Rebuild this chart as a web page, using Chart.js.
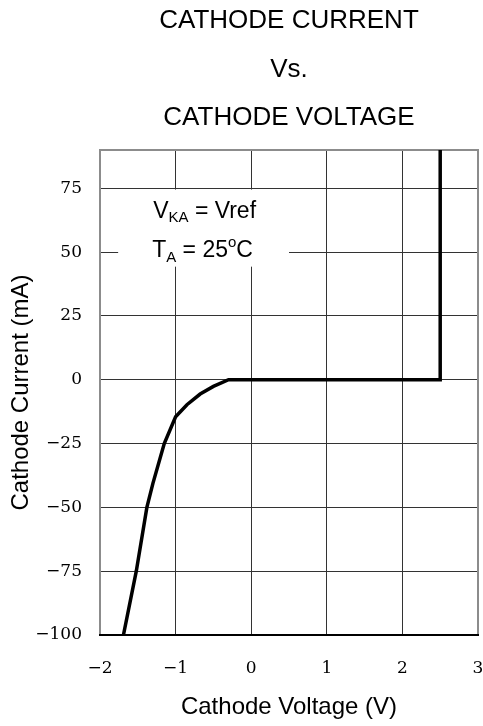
<!DOCTYPE html>
<html>
<head>
<meta charset="utf-8">
<script src="https://cdn.jsdelivr.net/npm/chart.js@4/dist/chart.umd.min.js"></script>
<style>
  html, body { margin: 0; padding: 0; background: #fff; }
  #wrap { width: 483px; height: 726px; position: relative; }
</style>
</head>
<body>
<div id="wrap"><canvas id="myChart"></canvas></div>
<script>
// values
const voltage = [-1.69, -1.52, -1.38, -1.30, -1.15, -1.0, -0.85, -0.675, -0.5, -0.3, 2.5, 2.5];
const current = [-100, -75, -50, -40.6, -25, -14.5, -9.8, -5.6, -2.6, 0, 0, 90];

const xTicks = [-2, -1, 0, 1, 2, 3];
const yTicks = [-100, -75, -50, -25, 0, 25, 50, 75];

const titleLines = ['CATHODE CURRENT', 'Vs.', 'CATHODE VOLTAGE'];

const minus = v => String(v).replace('-', '\u2212');

// titles, frame and the condition note
const decor = {
  id: 'decor',
  beforeDraw(chart) {
    const ctx = chart.ctx;
    const a = chart.chartArea;
    const cx = (a.left + a.right) / 2;
    ctx.save();
    ctx.fillStyle = '#000';
    ctx.font = '26px "Liberation Sans", Arial, sans-serif';
    ctx.textAlign = 'center';
    ctx.textBaseline = 'alphabetic';
    const base = [28, 77, 125];
    titleLines.forEach((t, i) => ctx.fillText(t, cx, base[i]));
    ctx.restore();
  },
  beforeDatasetsDraw(chart) {
    const ctx = chart.ctx;
    const a = chart.chartArea;
    const x = chart.scales.x, y = chart.scales.y;

    // frame
    ctx.save();
    ctx.lineWidth = 2;
    ctx.strokeStyle = '#8c8c8c';
    ctx.beginPath();
    ctx.moveTo(a.left, a.bottom);
    ctx.lineTo(a.left, a.top);
    ctx.lineTo(a.right, a.top);
    ctx.lineTo(a.right, a.bottom);
    ctx.stroke();
    ctx.strokeStyle = '#000';
    ctx.beginPath();
    ctx.moveTo(a.left - 1, a.bottom);
    ctx.lineTo(a.right + 1, a.bottom);
    ctx.stroke();

    // white note box
    const bx0 = x.getPixelForValue(-1.76), bx1 = x.getPixelForValue(0.5);
    const by0 = y.getPixelForValue(74.5), by1 = y.getPixelForValue(44.3);
    ctx.fillStyle = '#fff';
    ctx.fillRect(bx0, by0, bx1 - bx0, by1 - by0);

    ctx.fillStyle = '#000';
    ctx.textAlign = 'left';
    ctx.textBaseline = 'alphabetic';
    const big = '23px "Liberation Sans", Arial, sans-serif';
    const small = '15px "Liberation Sans", Arial, sans-serif';
    let px = bx0 + 35, py = by0 + 28;
    ctx.font = big; ctx.fillText('V', px, py); px += ctx.measureText('V').width;
    ctx.font = small; ctx.fillText('KA', px, py + 4); px += ctx.measureText('KA').width;
    ctx.font = big; ctx.fillText(' = Vref', px, py);

    px = bx0 + 34; py = by0 + 67;
    ctx.font = big; ctx.fillText('T', px, py); px += ctx.measureText('T').width;
    ctx.font = small; ctx.fillText('A', px, py + 5); px += ctx.measureText('A').width;
    ctx.font = big; ctx.fillText(' = 25', px, py); px += ctx.measureText(' = 25').width;
    ctx.font = small; ctx.fillText('o', px, py - 10); px += ctx.measureText('o').width;
    ctx.font = big; ctx.fillText('C', px, py);
    ctx.restore();
  }
};

const tickFont = { family: '"DejaVu Serif", serif', size: 17 };
const labelFont = { family: '"Liberation Sans", Arial, sans-serif', size: 24 };

new Chart(document.getElementById('myChart'), {
  type: 'scatter',
  data: {
    datasets: [{
      data: voltage.map((v, i) => ({ x: v, y: current[i] })),
      showLine: true,
      borderColor: '#000',
      borderWidth: 3.5,
      pointRadius: 0,
      tension: 0,
      fill: false
    }]
  },
  options: {
    responsive: true,
    maintainAspectRatio: false,
    animation: false,
    devicePixelRatio: 1,
    layout: { padding: { top: 150, left: 0, right: 0, bottom: 0 } },
    plugins: { legend: { display: false }, tooltip: { enabled: false } },
    scales: {
      x: {
        type: 'linear',
        min: -2, max: 3,
        afterBuildTicks: s => { s.ticks = xTicks.map(v => ({ value: v })); },
        afterFit: s => { s.height = 91; s.paddingLeft = 0; s.paddingRight = 5; },
        border: { display: false },
        grid: { color: '#333', lineWidth: 1, drawTicks: false },
        ticks: { color: '#000', font: tickFont, padding: 23, maxRotation: 0, callback: minus },
        title: { display: true, text: 'Cathode Voltage (V)', color: '#000', font: labelFont, padding: { top: 10, bottom: 4 } }
      },
      y: {
        type: 'linear',
        min: -100, max: 90,
        afterBuildTicks: s => { s.ticks = yTicks.map(v => ({ value: v })); },
        afterFit: s => { s.width = 100; s.paddingTop = 0; s.paddingBottom = 0; },
        border: { display: false },
        grid: { color: '#333', lineWidth: 1, drawTicks: false },
        ticks: { color: '#000', font: tickFont, padding: 18, callback: minus },
        title: { display: true, text: 'Cathode Current (mA)', color: '#000', font: labelFont, padding: { top: 7, bottom: 3 } }
      }
    }
  },
  plugins: [decor]
});
</script>
</body>
</html>
